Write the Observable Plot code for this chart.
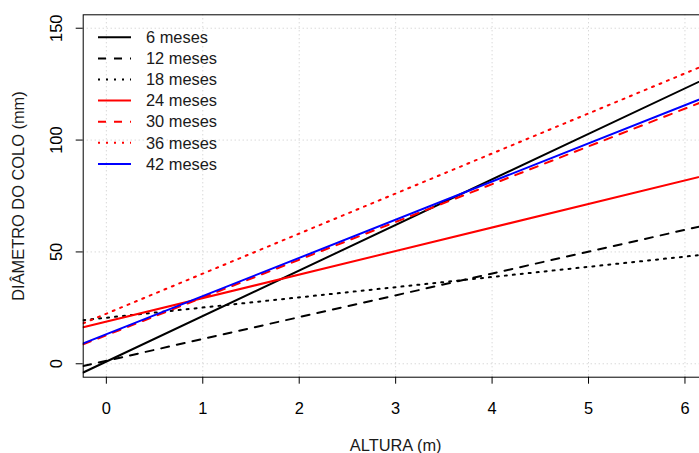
<!DOCTYPE html>
<html>
<head>
<meta charset="utf-8">
<script src="https://cdn.jsdelivr.net/npm/d3@7"></script>
<script src="https://cdn.jsdelivr.net/npm/@observablehq/plot@0.6"></script>
<style>
  html, body { margin: 0; padding: 0; background: white; overflow: hidden; }
  #chart { width: 699px; height: 453px; overflow: hidden; }
</style>
</head>
<body>
<div id="chart"></div>
<script>
// ---- data ----
const series = ["6 meses", "12 meses", "18 meses", "24 meses", "30 meses", "36 meses", "42 meses"];
const alturaEnds = [-0.24, 6.24];                      // x at the two plot edges
const diamAtStart = [-3.9, -1.0, 19.5, 16.3, 8.7, 18.1, 9.1];   // y at x = -0.24
const diamAtEnd = [128.0, 62.2, 49.0, 84.5, 118.1, 134.1, 119.7]; // y at x = 6.24
const xTicks = [0, 1, 2, 3, 4, 5, 6];
const yTicks = [0, 50, 100, 150];

// ---- styles ----
const seriesColor = ["black", "black", "black", "red", "red", "red", "blue"];
const seriesDash = [null, "8,8", "2,6", null, "8,8", "2,6", null];
const FONT = "'Liberation Sans', Arial, Helvetica, sans-serif";
const FS = 16.4;

const lineData = series.map((s, i) => [
  {serie: s, x: alturaEnds[0], y: diamAtStart[i]},
  {serie: s, x: alturaEnds[1], y: diamAtEnd[i]}
]);

const chart = Plot.plot({
  width: 699,
  height: 453,
  marginLeft: 82.7,
  marginTop: 14.3,
  marginBottom: 76.3,
  marginRight: -8.6,
  style: {fontFamily: FONT, fontSize: FS + "px", overflow: "hidden", background: "white", color: "black"},
  x: {domain: [-0.24, 6.24]},
  y: {domain: [-6, 156]},
  marks: [
    Plot.gridX(xTicks, {stroke: "#c8c8c8", strokeOpacity: 1, strokeDasharray: "1,3"}),
    Plot.gridY(yTicks, {stroke: "#c8c8c8", strokeOpacity: 1, strokeDasharray: "1,3"}),
    ...lineData.map((d, i) => Plot.line(d, {
      x: "x", y: "y", stroke: seriesColor[i], strokeWidth: 2,
      strokeDasharray: seriesDash[i] || undefined, clip: true
    })),
    Plot.frame({stroke: "black", strokeWidth: 1}),
    Plot.axisX(xTicks, {tickSize: 7, tickFormat: () => "", label: null}),
    Plot.axisY(yTicks, {tickSize: 7, tickFormat: () => "", label: null}),
    Plot.text(xTicks, {x: d => d, frameAnchor: "bottom", dy: 31.3, lineAnchor: "middle", text: d => String(d), fontSize: FS, fill: "black"}),
    Plot.text(yTicks, {y: d => d, frameAnchor: "left", dx: -26.2, rotate: -90, lineAnchor: "middle", textAnchor: "middle", text: d => String(d), fontSize: FS, fill: "black"}),
    Plot.text(["ALTURA (m)"], {frameAnchor: "bottom", dy: 68.3, lineAnchor: "middle", text: d => d, fontSize: FS, fill: "#1a1a1a"}),
    Plot.text(["DIÂMETRO DO COLO (mm)"], {frameAnchor: "left", dx: -64.2, rotate: -90, lineAnchor: "middle", textAnchor: "middle", text: d => d, fontSize: FS, fill: "#1a1a1a"})
  ]
});

// legend inside the plot area (top-left)
const svg = d3.select(chart);
const lg = svg.append("g").attr("class", "legend");
series.forEach((s, i) => {
  const yy = 37.3 + i * 21.1;
  lg.append("line")
    .attr("x1", 98).attr("x2", 131).attr("y1", yy).attr("y2", yy)
    .attr("stroke", seriesColor[i]).attr("stroke-width", 2)
    .attr("stroke-dasharray", seriesDash[i]);
  lg.append("text")
    .attr("x", 146).attr("y", yy).attr("dy", "0.35em")
    .attr("text-anchor", "start")
    .attr("font-family", FONT).attr("font-size", FS).attr("fill", "#1a1a1a")
    .text(s);
});

document.getElementById("chart").appendChild(chart);
</script>
</body>
</html>
